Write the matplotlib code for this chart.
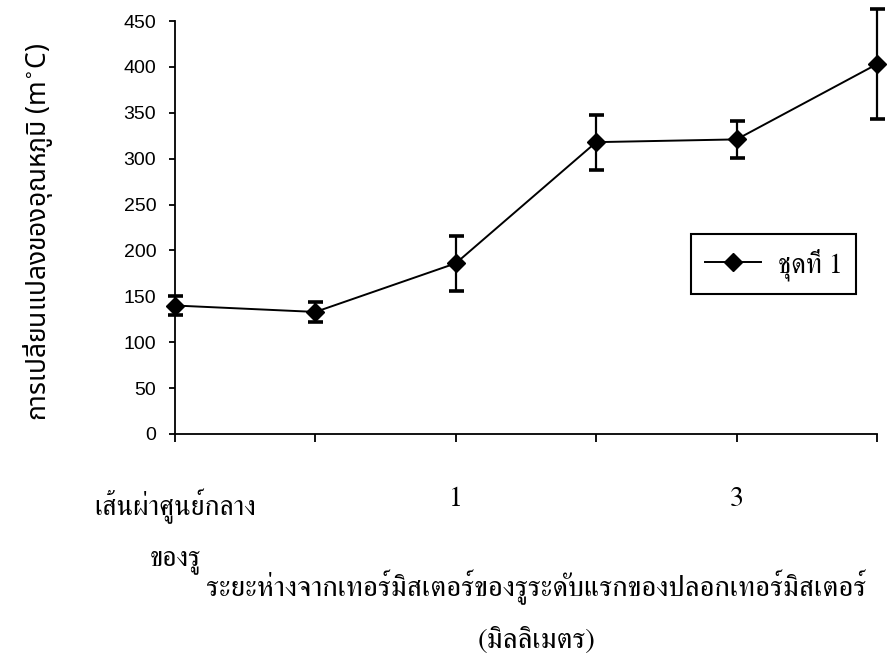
import matplotlib
matplotlib.use("Agg")
import matplotlib.pyplot as plt
from matplotlib.lines import Line2D

# ข้อมูล (อ่านจากกราฟ)
ตำแหน่ง = [0, 1, 2, 3, 4, 5]
ป้ายแกนx = ["เส้นผ่าศูนย์กลาง\n\nของรู", "", "1", "", "3", ""]
อุณหภูมิ = [140, 133, 186, 318, 321, 403]
ความคลาดเคลื่อน = [10, 11, 30, 30, 20, 60]
ชื่อชุด = "ชุดที่ 1"

ฟอนต์ไทย = ["FreeSerif", "DejaVu Sans"]

fig = plt.figure(figsize=(8.93, 6.64), dpi=100)
ax = fig.add_axes([175/893, 1 - 434/664, 702/893, 413/664])

ax.errorbar(ตำแหน่ง, อุณหภูมิ, yerr=ความคลาดเคลื่อน, color="black",
            marker="D", markersize=9, linewidth=1.4,
            elinewidth=1.6, capsize=5.4, capthick=2.6, clip_on=False)

ax.set_xlim(0, 5)
ax.set_ylim(0, 450)
ax.set_yticks(range(0, 451, 50))
ax.set_xticks(ตำแหน่ง)
ax.set_xticklabels(ป้ายแกนx, family=ฟอนต์ไทย, fontsize=20,
                   linespacing=0.96, va="top")

for lab in ax.get_yticklabels():
    lab.set_family("Liberation Sans")
    lab.set_fontsize(14)

ax.spines["top"].set_visible(False)
ax.spines["right"].set_visible(False)
ax.spines["left"].set_linewidth(1.3)
ax.spines["bottom"].set_linewidth(1.3)
ax.tick_params(axis="y", length=4.5, width=1.3, pad=9)
ax.tick_params(axis="x", length=6, width=1.3, pad=32)

ax.set_ylabel("การเปลี่ยนแปลงของอุณหภูมิ (m$^{\\circ}$C)",
              family=["Noto Sans Thai", "DejaVu Sans"], fontsize=19)
ax.yaxis.label.set_va("center")
ax.yaxis.set_label_coords(-0.195, 0.49)

ax.set_xlabel("ระยะห่างจากเทอร์มิสเตอร์ของรูระดับแรกของปลอกเทอร์มิสเตอร์\n\n(มิลลิเมตร)",
              family=ฟอนต์ไทย, fontsize=21, linespacing=0.95)
ax.xaxis.label.set_va("top")
ax.xaxis.set_label_coords(0.515, -0.324)

เส้นตำนาน = Line2D([], [], color="black", marker="D", markersize=9, linewidth=1.4)
leg = ax.legend([เส้นตำนาน], [ชื่อชุด], loc="center", bbox_to_anchor=(0.853, 0.411),
                fancybox=False, edgecolor="black", framealpha=1, handlelength=2.0,
                borderpad=0.5, handletextpad=0.6, prop={"family": ฟอนต์ไทย, "size": 20})
leg.get_frame().set_linewidth(1.5)

fig.savefig("out.png", dpi=100)
